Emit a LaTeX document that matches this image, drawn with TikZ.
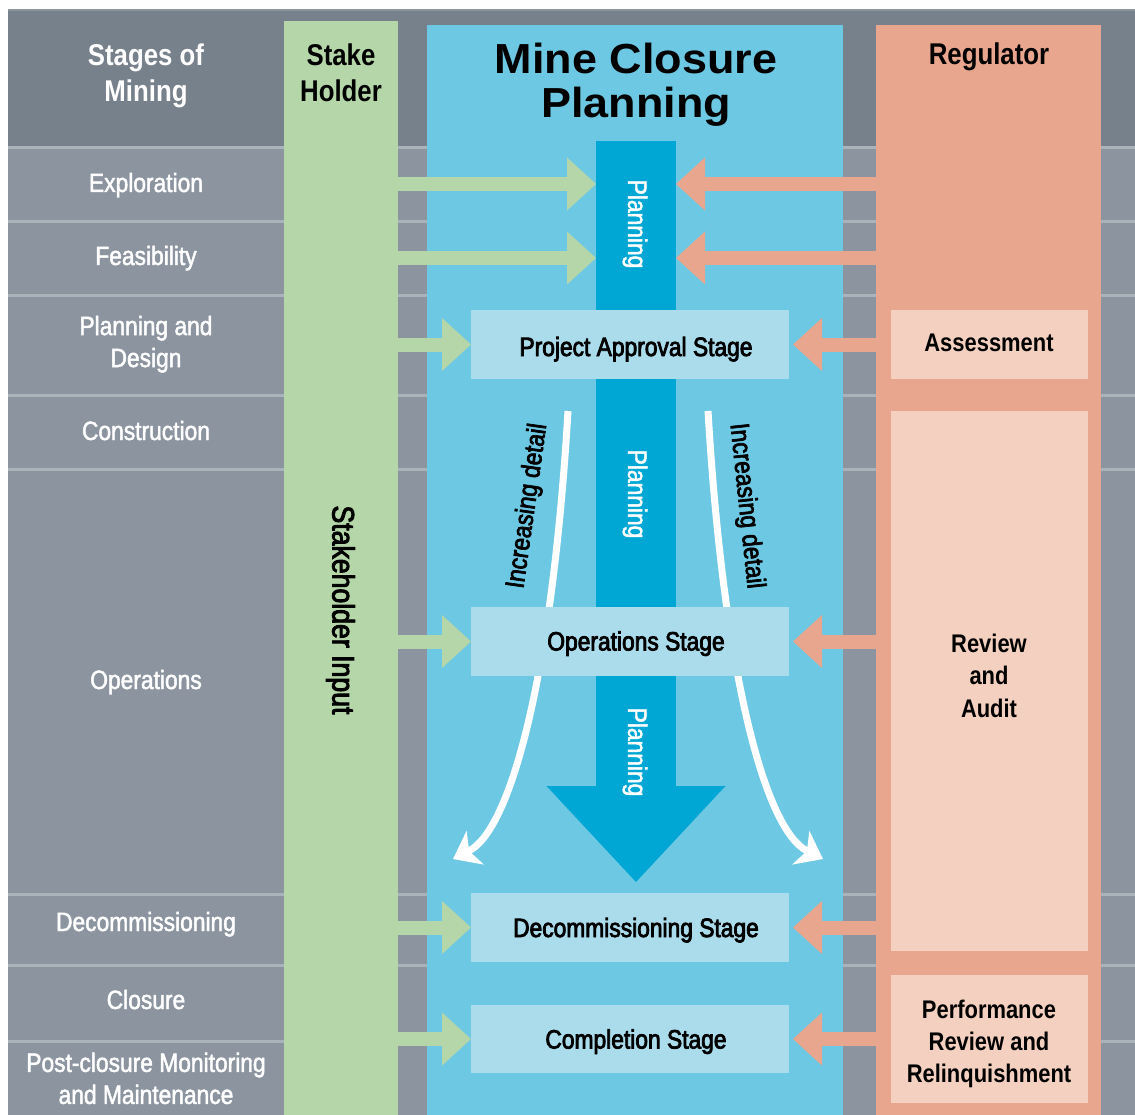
\documentclass[tikz,border=0pt]{standalone}
\usepackage{fontspec}
\setmainfont{Liberation Sans}[FakeStretch=0.86]
\newfontfamily\titlefont{Liberation Sans}[FakeStretch=1.07]
\newfontfamily\medfont{Liberation Sans}[FakeStretch=0.86, FakeBold=3]
\newfontfamily\lightmed{Liberation Sans}[FakeStretch=0.86, FakeBold=1.8]
\newfontfamily\medplain{Liberation Sans}[FakeBold=3]
\usetikzlibrary{arrows.meta}
\definecolor{hdrgray}{HTML}{77818C}
\definecolor{rowgray}{HTML}{8C959F}
\definecolor{sepgray}{HTML}{A9B3BA}
\definecolor{topgray}{HTML}{8A949D}
\definecolor{sgreen}{HTML}{B4D6A9}
\definecolor{lblue}{HTML}{6DC8E3}
\definecolor{pblue}{HTML}{00A7D4}
\definecolor{stageblue}{HTML}{ABDCEC}
\definecolor{salmon}{HTML}{E9A68F}
\definecolor{palesalmon}{HTML}{F3D0C0}
\begin{document}
\begin{tikzpicture}[x=1pt,y=-1pt,
  colbox/.style={anchor=north west, inner sep=0pt, outer sep=0pt, draw=none},
  sepline/.style={draw=sepgray, line width=3pt},
  rowlbl/.style={text=white, font=\lightmed\fontsize{26.5}{32}\selectfont, align=center, inner sep=0pt},
  hdr/.style={font=\fontsize{30}{36}\selectfont\bfseries, align=center, inner sep=0pt},
  stagebox/.style={fill=stageblue, minimum width=318pt, inner sep=0pt, outer sep=0pt},
  stagelbl/.style={font=\medfont\fontsize{26.5}{32}\selectfont, inner sep=0pt, anchor=base},
  regbox/.style={fill=palesalmon, minimum width=197pt, inner sep=0pt, outer sep=0pt},
  reglbl/.style={font=\fontsize{25.5}{32}\selectfont\bfseries, align=center, inner sep=0pt},
  planlbl/.style={text=white, font=\lightmed\fontsize{26.5}{32}\selectfont, rotate=-90, inner sep=0pt},
  detlbl/.style={font=\medplain\fontsize{26.5}{32}\selectfont, inner sep=0pt},
  garrow/.style={draw=sgreen, line width=14pt, -{Triangle[width=53pt,length=29pt,line width=0pt]}},
  sarrow/.style={draw=salmon, line width=14pt, -{Triangle[width=53pt,length=29pt,line width=0pt]}},
  curvearrow/.style={draw=white, line width=7pt, -{Stealth[length=25pt,width=38pt,inset=7pt,line width=0pt]}}
]
\useasboundingbox (0,0) rectangle (1135,1115);
\fill[white] (0,0) rectangle (1135,1115);
% background bands
\fill[rowgray] (8,9) rectangle (1135,1115);
\fill[hdrgray] (8,9) rectangle (1135,146);
\fill[topgray] (8,9) rectangle (1135,11);
\foreach \yy in {147.5,221.5,295.5,395.5,469.5,894,965.5,1041}
  \draw[sepline] (8,\yy) -- (1135,\yy);
% columns
\node[colbox, fill=sgreen, minimum width=114pt, minimum height=1094pt] (stake) at (284,21) {};
\node[colbox, fill=lblue, minimum width=416pt, minimum height=1090pt] (mcp) at (427,25) {};
\node[colbox, fill=salmon, minimum width=225pt, minimum height=1090pt] (reg) at (876,25) {};
% planning bar with head
\node[fill=pblue, inner sep=0pt, outer sep=0pt, minimum width=80pt, minimum height=645pt, anchor=north] (bar) at (636,141) {};
\coordinate (barTip) at (636,882);
\fill[pblue] ([xshift=-89.5pt]bar.south) -- ([xshift=89.5pt]bar.south) -- (barTip) -- cycle;
% curved arrows
\coordinate (cL0) at (568,411);
\coordinate (cL1) at (453,859);
\coordinate (cR0) at (708,411);
\coordinate (cR1) at (823,859);
\draw[curvearrow] (cL0) .. controls (552,680) and (510,830) .. (cL1);
\draw[curvearrow] (cR0) .. controls (724,680) and (766,830) .. (cR1);
\node[detlbl, rotate=82] (detL) at (528,506) {\scalebox{0.86}[1]{Increasing detail}};
\node[detlbl, rotate=-84] (detR) at (746,506) {\scalebox{0.86}[1]{Increasing detail}};
% planning labels
\node[planlbl] (plan1) at (635,224) {Planning};
\node[planlbl] (plan2) at (635,494) {Planning};
\node[planlbl] (plan3) at (635,752) {Planning};
% stage boxes
\node[stagebox, minimum height=69pt] (pab) at (630,344.5) {};
\node[stagebox, minimum height=69pt] (ops) at (630,641.5) {};
\node[stagebox, minimum height=69pt] (dec) at (630,927.5) {};
\node[stagebox, minimum height=68pt] (comp) at (630,1039) {};
\node[stagelbl] (pabl) at (636,356) {Project Approval Stage};
\node[stagelbl] (opsl) at (636,650.5) {Operations Stage};
\node[stagelbl] (decl) at (636,937) {Decommissioning Stage};
\node[stagelbl] (compl) at (636,1048.5) {Completion Stage};
% regulator boxes
\node[regbox, minimum height=69pt] (ass) at (989.5,344.5) {};
\node[regbox, minimum height=540pt] (rev) at (989.5,681) {};
\node[regbox, minimum height=128pt] (perf) at (989.5,1039) {};
\node[reglbl, anchor=base] (assl) at (989,351.5) {Assessment};
\node[reglbl] (revl) at (989,675.5) {Review\\[0.5pt]and\\[0.5pt]Audit};
\node[reglbl] (perfl) at (989,1043.7) {Performance\\Review and\\Relinquishment};
% fat arrows
\coordinate (r1) at (0,184);
\coordinate (r2) at (0,258);
\draw[garrow] (stake.east |- r1) -- (bar.west |- r1);
\draw[garrow] (stake.east |- r2) -- (bar.west |- r2);
\draw[sarrow] (reg.west |- r1) -- (bar.east |- r1);
\draw[sarrow] (reg.west |- r2) -- (bar.east |- r2);
\foreach \b in {pab,ops,dec,comp}{
  \draw[garrow] (stake.east |- \b) -- (\b.west);
  \draw[sarrow] (reg.west |- \b) -- ([xshift=4pt]\b.east);
}
% headers
\node[hdr, text=white] (hStages) at (146,75.5) {Stages of\\Mining};
\node[hdr] (hStake) at (341,72.5) {Stake\\Holder};
\node[font=\titlefont\fontsize{42}{44}\selectfont\bfseries, align=center, inner sep=0pt] (title) at (636,85) {Mine Closure\\Planning};
\node[hdr, anchor=base] (hReg) at (989,65) {Regulator};
% row labels
\node[rowlbl, anchor=base] (lExp) at (146,192) {Exploration};
\node[rowlbl, anchor=base] (lFea) at (146,265) {Feasibility};
\node[rowlbl] (lPla) at (146,344.2) {Planning and\\Design};
\node[rowlbl, anchor=base] (lCon) at (146,440) {Construction};
\node[rowlbl, anchor=base] (lOpe) at (146,689) {Operations};
\node[rowlbl, anchor=base] (lDec) at (146,931) {Decommissioning};
\node[rowlbl, anchor=base] (lClo) at (146,1009) {Closure};
\node[rowlbl] (lPos) at (146,1078.4) {Post-closure Monitoring\\and Maintenance};
% stakeholder input
\node[font=\medfont\fontsize{31}{36}\selectfont, rotate=-90, inner sep=0pt] (sInput) at (340.5,610) {Stakeholder Input};
\end{tikzpicture}
\end{document}
